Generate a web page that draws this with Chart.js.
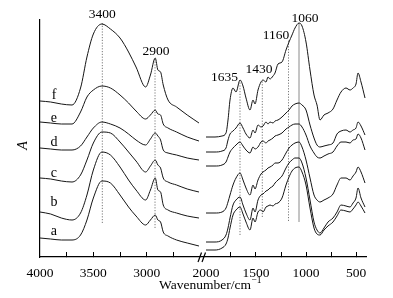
<!DOCTYPE html>
<html><head><meta charset="utf-8">
<script src="https://cdn.jsdelivr.net/npm/chart.js@4"></script>
<style>html,body{margin:0;padding:0;background:#fff;}canvas{display:block;}</style>
</head><body>
<canvas id="c" width="393" height="298"></canvas>
<script>
// Wavenumbers (cm^-1) for the two segments of the broken axis
const leftWn = [4000,3900,3800,3700,3620,3560,3500,3420,3340,3250,3170,3100,3010,2965,2920,2895,2870,2845,2800,2720,2620,2510];
const rightWn = [2000,1910,1840,1800,1780,1760,1730,1700,1660,1630,1600,1560,1530,1510,1480,1450,1430,1400,1380,1360,1330,1310,1280,1240,1200,1170,1140,1110,1070,1040,1000,960,920,890,860,820,780,730,690,650,600,560,530,500,480,450,410];

// Absorbance (arbitrary, offset) values
const aLeft = [19,18,17,17,22,37,59,76,74,62,50,41,32,37,42,37,35,25,21,17,14,11];
const aRight = [7,7,9,13,19,29,42,47,50,43,35,27,39,35,45,47,45,50,51,52,51,53,54,59,72,80,86,89,90,85,72,49,29,23,22,27,31,35,41,47,46,45,48,52,55,51,44];
const bLeft = [45,43,39,37,44,62,87,105,102,90,77,67,57,67,79,67,65,52,47,44,41,39];
const bRight = [15,15,17,22,29,39,52,57,60,52,44,37,49,45,57,62,63,66,67,69,71,74,77,81,89,94,97,99,99,94,79,57,35,27,24,29,35,39,45,52,51,50,54,59,69,59,50];
const cLeft = [79,78,76,75,82,97,114,125,124,115,105,96,85,91,97,92,89,79,75,72,68,65];
const cRight = [44,44,45,49,55,62,72,79,84,77,69,62,72,68,77,83,85,87,89,90,92,94,94,97,104,109,112,114,115,110,97,79,62,57,55,57,59,63,72,79,79,77,81,85,90,85,74];
const dLeft = [109,108,107,107,111,120,129,135,133,129,123,117,112,118,124,121,117,107,104,102,99,97];
const dRight = [91,91,92,95,100,105,109,112,115,111,107,104,110,108,110,115,116,114,116,117,119,121,122,124,128,130,132,133,133,130,122,111,104,100,99,101,103,105,111,115,115,114,117,118,123,119,107];
const eLeft = [135,134,133,133,145,160,167,171,169,162,154,146,138,142,147,143,142,133,129,125,120,116];
const eRight = [105,105,106,109,117,123,126,129,134,129,123,119,127,124,132,130,131,135,133,135,134,136,137,140,144,147,151,153,154,152,147,132,119,112,110,111,112,114,123,126,127,125,127,129,135,131,122];
const fLeft = [156,155,153,152,169,200,223,233,228,219,205,190,170,182,199,187,185,172,157,150,142,134];
const fRight = [120,120,121,124,137,157,169,165,177,171,159,147,157,153,167,175,177,175,180,178,181,184,193,195,207,215,222,229,234,231,215,187,162,152,137,142,144,148,157,165,169,167,169,173,184,175,159];

const curveNames = ['a','b','c','d','e','f'];
const curveLeft = [aLeft,bLeft,cLeft,dLeft,eLeft,fLeft];
const curveRight = [aRight,bRight,cRight,dRight,eRight,fRight];

// Axis ticks
const tickValues = [4000,3500,3000,2000,1500,1000,500];
const tickLabels = ['4000','3500','3000','2000','1500','1000','500'];
const minorTicks = [3750,3250,2750,1750,1250,750];

// Peak markers
const peakLabels = ['3400','2900','1635','1430','1160','1060'];
const peakLineWn = [3416,2922,1660,1437,1175,1070];
const peakLineTop = [234,199,177,177,217,234];
const peakLineBottom = [34,29,22,40,36,35];

// Annotation anchors (wavenumber, absorbance units)
const peakLabelWn = [3416,2913,1815,1470,1300,1010];
const peakLabelH = [243,206,180,188,222,239];
const curveLabelWn = 3869;
const curveLabelH = [26,55,84,115,139,162];

// Broken axis: 4000-2500 and 2000-400
const L_SCALE = 0.1067, R_START = 166, R_SCALE = 0.1;
function toAxis(wn){ return wn >= 2250 ? (4000 - wn) * L_SCALE : R_START + (2000 - wn) * R_SCALE; }
const GAP = (toAxis(2500) + toAxis(2000)) / 2;

const datasets = [];
peakLineWn.forEach((w,i)=>{
  datasets.push({
    data:[{x:toAxis(w),y:peakLineBottom[i]},{x:toAxis(w),y:peakLineTop[i]}],
    borderColor: i===5 ? '#8a8a8a' : '#6a6a6a',
    borderWidth: i===5 ? 1 : 0.9,
    borderDash: i===5 ? [] : [1.2,1.6],
    pointRadius:0, tension:0, order:2
  });
});
curveNames.forEach((n,k)=>{
  const pts = leftWn.map((w,i)=>({x:toAxis(w), y:curveLeft[k][i]}))
    .concat([{x:GAP, y:null}])
    .concat(rightWn.map((w,i)=>({x:toAxis(w), y:curveRight[k][i]})));
  datasets.push({label:n, data:pts, borderColor:'#151515', borderWidth:1,
    pointRadius:0, cubicInterpolationMode:'monotone', fill:false, order:1});
});

const SERIF = '"Liberation Serif", "Times New Roman", serif';

const annot = {
  id:'annot',
  afterDraw(chart){
    const ctx = chart.ctx, xs = chart.scales.x, ys = chart.scales.y;
    ctx.save();
    ctx.fillStyle = '#000';
    ctx.textAlign = 'center';
    ctx.textBaseline = 'middle';
    ctx.font = '13.5px ' + SERIF;
    peakLabels.forEach((t,i)=>{
      ctx.fillText(t, xs.getPixelForValue(toAxis(peakLabelWn[i])), ys.getPixelForValue(peakLabelH[i]));
    });
    ctx.font = '14px ' + SERIF;
    curveNames.forEach((t,i)=>{
      ctx.fillText(t, xs.getPixelForValue(toAxis(curveLabelWn)), ys.getPixelForValue(curveLabelH[i]));
    });
    // break marks on the x axis
    const bx = xs.getPixelForValue(GAP), by = xs.top;
    ctx.strokeStyle = '#000'; ctx.lineWidth = 1.2;
    [-3.5, 0.5].forEach(dx=>{
      ctx.beginPath(); ctx.moveTo(bx+dx-1.5, by+5); ctx.lineTo(bx+dx+2, by-4.5); ctx.stroke();
    });
    // x axis title with superscript
    const main = 'Wavenumber/cm', sup = '\u22121';
    ctx.textAlign = 'left';
    ctx.font = '13.5px ' + SERIF;
    const wMain = ctx.measureText(main).width;
    ctx.font = '9.5px ' + SERIF;
    const wSup = ctx.measureText(sup).width;
    const cx = (chart.chartArea.left + chart.chartArea.right)/2 + 7;
    const sx = cx - (wMain + wSup)/2;
    ctx.font = '13.5px ' + SERIF;
    ctx.fillText(main, sx, 285.5);
    ctx.font = '9.5px ' + SERIF;
    ctx.fillText(sup, sx + wMain + 0.5, 280);
    // y axis title
    ctx.save();
    ctx.translate(23, (chart.chartArea.top + chart.chartArea.bottom)/2 + 7);
    ctx.rotate(-Math.PI/2);
    ctx.textAlign = 'center';
    ctx.font = 'italic 14px ' + SERIF;
    ctx.fillText('A', 0, 0);
    ctx.restore();
    ctx.restore();
  }
};

new Chart(document.getElementById('c'), {
  type:'line',
  data:{datasets},
  options:{
    responsive:false, animation:false, devicePixelRatio:1,
    layout:{padding:{left:0, right:27, top:20, bottom:0}},
    plugins:{legend:{display:false}, tooltip:{enabled:false}},
    scales:{
      x:{
        type:'linear', min:0, max:toAxis(400),
        afterBuildTicks(scale){
          const all = tickValues.map((w,i)=>({value:toAxis(w), wn:w, label:tickLabels[i], noMark:(w===4000||w===2000)}))
            .concat(minorTicks.map(w=>({value:toAxis(w), wn:w, label:'', noMark:false})));
          all.sort((p,q)=>p.value-q.value);
          scale.ticks = all;
        },
        afterFit(scale){ scale.height = 41; },
        grid:{display:true, drawOnChartArea:false, drawTicks:true, tickLength:-5,
          tickColor:(ctx)=> (ctx.tick && ctx.tick.noMark) ? 'rgba(0,0,0,0)' : '#000', tickWidth:1},
        border:{display:true, color:'#000', width:1.2},
        ticks:{autoSkip:false, maxRotation:0, padding:13, color:'#000',
          font:{family:SERIF, size:13.5},
          callback:(v,i,ticks)=> ticks[i].label}
      },
      y:{
        min:0, max:237,
        afterFit(scale){ scale.width = 40; },
        grid:{display:false},
        border:{display:true, color:'#000', width:1.2},
        ticks:{display:false}
      }
    }
  },
  plugins:[annot]
});
</script>
</body></html>
